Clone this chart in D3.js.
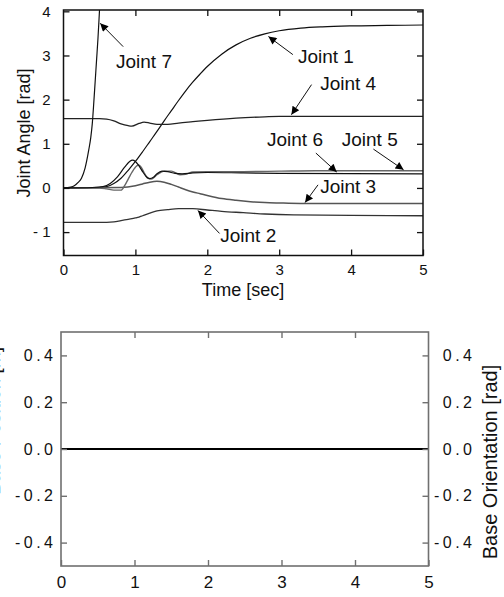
<!DOCTYPE html>
<html><head><meta charset="utf-8">
<script src="https://cdn.jsdelivr.net/npm/d3@7"></script>
<style>body{margin:0;background:#fff}svg{display:block}text{font-family:"Liberation Sans",Arial,sans-serif}</style>
</head><body><svg id="c" width="504" height="597"></svg>
<script>
// ---------- data ----------
const xTicks = [0, 1, 2, 3, 4, 5];
const topYTicks = [-1, 0, 1, 2, 3, 4];
const topYTickLabels = ["- 1", "0", "1", "2", "3", "4"];
const botYTicks = [-0.4, -0.2, 0.0, 0.2, 0.4];
const botYTickLabels = ["-0.4", "-0.2", "0.0", "0.2", "0.4"];

const j1T = [0, 0.5, 0.6, 0.7, 0.8, 0.9, 1.0, 1.1, 1.2, 1.3, 1.4, 1.5, 1.6, 1.7, 1.8, 1.9, 2.0, 2.2, 2.4, 2.6, 2.8, 3.0, 3.3, 3.6, 4.0, 4.5, 5.0];
const j1V = [0, 0.01, 0.03, 0.1, 0.22, 0.4, 0.6, 0.82, 1.05, 1.28, 1.52, 1.75, 1.98, 2.2, 2.4, 2.58, 2.75, 3.03, 3.24, 3.39, 3.49, 3.56, 3.62, 3.65, 3.67, 3.68, 3.69];
const j2T = [0, 0.6, 0.7, 0.8, 0.9, 1.0, 1.05, 1.1, 1.2, 1.3, 1.45, 1.6, 1.8, 2.0, 2.2, 2.5, 2.8, 3.2, 4.0, 5.0];
const j2V = [-0.78, -0.78, -0.77, -0.74, -0.71, -0.68, -0.66, -0.63, -0.57, -0.52, -0.49, -0.47, -0.47, -0.5, -0.53, -0.56, -0.59, -0.61, -0.62, -0.63];
const j3T = [0, 0.8, 1.0, 1.1, 1.2, 1.3, 1.4, 1.5, 1.6, 1.7, 1.8, 1.9, 2.0, 2.2, 2.4, 2.6, 2.8, 3.0, 3.3, 5.0];
const j3V = [0, 0.01, 0.05, 0.09, 0.13, 0.15, 0.13, 0.08, 0.02, -0.04, -0.09, -0.13, -0.17, -0.24, -0.28, -0.31, -0.33, -0.34, -0.35, -0.35];
const j4T = [0, 0.5, 0.6, 0.7, 0.8, 0.9, 0.95, 1.05, 1.12, 1.2, 1.3, 1.45, 1.6, 1.8, 2.0, 2.4, 2.8, 3.0, 5.0];
const j4V = [1.57, 1.57, 1.56, 1.52, 1.45, 1.41, 1.40, 1.46, 1.49, 1.47, 1.44, 1.44, 1.47, 1.50, 1.53, 1.58, 1.61, 1.62, 1.62];
const j5T = [0, 0.5, 0.6, 0.7, 0.8, 0.85, 0.9, 0.95, 1.0, 1.04, 1.08, 1.12, 1.17, 1.22, 1.3, 1.4, 1.5, 1.62, 1.7, 1.8, 2.0, 2.5, 3.0, 3.5, 5.0];
const j5V = [0, 0, -0.02, -0.05, -0.05, 0.05, 0.2, 0.35, 0.47, 0.52, 0.47, 0.35, 0.22, 0.2, 0.3, 0.38, 0.38, 0.3, 0.31, 0.36, 0.37, 0.37, 0.38, 0.39, 0.39];
const j6T = [0, 0.4, 0.55, 0.65, 0.75, 0.85, 0.92, 0.96, 1.0, 1.05, 1.1, 1.15, 1.2, 1.25, 1.3, 1.37, 1.45, 1.55, 1.65, 1.8, 2.0, 2.5, 3.0, 5.0];
const j6V = [0, 0.01, 0.03, 0.1, 0.25, 0.47, 0.6, 0.63, 0.6, 0.5, 0.37, 0.26, 0.21, 0.24, 0.32, 0.38, 0.37, 0.33, 0.32, 0.34, 0.35, 0.34, 0.33, 0.32];
const j7T = [0, 0.1, 0.15, 0.2, 0.25, 0.3, 0.35, 0.38, 0.4, 0.42, 0.44, 0.46, 0.48, 0.5, 0.52];
const j7V = [0, 0.02, 0.05, 0.12, 0.22, 0.45, 0.85, 1.15, 1.45, 1.9, 2.4, 2.9, 3.4, 4.0, 4.6];
const baseT = [0, 5];
const baseV = [0, 0];

// ---------- layout ----------
const svg = d3.select("#c");
const FONT = '"Liberation Sans",Arial,sans-serif';
const x1 = d3.scaleLinear().domain([0, 5]).range([63.5, 423]);
const y1 = d3.scaleLinear().domain([-1.53, 4.03]).range([255.5, 10]);
const x2 = d3.scaleLinear().domain([0, 5]).range([61, 428.5]);
const y2 = d3.scaleLinear().domain([-0.5, 0.5]).range([566, 332]);

svg.append("defs").append("clipPath").attr("id", "clip1")
  .append("rect").attr("x", x1(0)).attr("y", y1(4.03)).attr("width", x1(5) - x1(0)).attr("height", y1(-1.53) - y1(4.03));
const mk = svg.select("defs").append("marker").attr("id", "arr")
  .attr("viewBox", "0 0 10 10").attr("refX", 10).attr("refY", 5)
  .attr("markerWidth", 11).attr("markerHeight", 8).attr("markerUnits", "userSpaceOnUse")
  .attr("orient", "auto");
mk.append("path").attr("d", "M0,0 L10,5 L0,10 Z").attr("fill", "#000");

// ---------- top plot ----------
const g1 = svg.append("g");
const series = [
  {t: j1T, v: j1V, c: "#111", w: 1.2},
  {t: j2T, v: j2V, c: "#333", w: 1.3},
  {t: j3T, v: j3V, c: "#555", w: 1.5},
  {t: j4T, v: j4V, c: "#222", w: 1.3},
  {t: j5T, v: j5V, c: "#666", w: 1.4},
  {t: j6T, v: j6V, c: "#111", w: 1.2},
  {t: j7T, v: j7V, c: "#111", w: 1.2}
];
const line1 = d3.line().x(d => x1(d[0])).y(d => y1(d[1])).curve(d3.curveMonotoneX);
const lg = g1.append("g").attr("clip-path", "url(#clip1)");
series.forEach(s => {
  lg.append("path").datum(s.t.map((t, i) => [t, s.v[i]]))
    .attr("d", line1).attr("fill", "none").attr("stroke", s.c).attr("stroke-width", s.w);
});

function frame(g, xs, ys, color, sw) {
  const [xa, xb] = xs.range(), [yb, ya] = ys.range();
  g.append("rect").attr("x", xa).attr("y", ya).attr("width", xb - xa).attr("height", yb - ya)
    .attr("fill", "none").attr("stroke", color).attr("stroke-width", sw);
}
frame(g1, x1, y1, "#111", 1.5);
const tk = 6;
const ax1b = g1.append("g").attr("transform", `translate(0,${y1.range()[0]})`)
  .call(d3.axisBottom(x1).tickValues(xTicks).tickSize(-tk).tickPadding(tk + 5).tickFormat(d3.format("d")));
const ax1t = g1.append("g").attr("transform", `translate(0,${y1.range()[1]})`)
  .call(d3.axisTop(x1).tickValues(xTicks.slice(1, 5)).tickSize(-tk).tickFormat(""));
const ax1l = g1.append("g").attr("transform", `translate(${x1.range()[0]},0)`)
  .call(d3.axisLeft(y1).tickValues(topYTicks).tickSize(-tk).tickPadding(tk + 7).tickFormat((d, i) => topYTickLabels[i]));
const ax1r = g1.append("g").attr("transform", `translate(${x1.range()[1]},0)`)
  .call(d3.axisRight(y1).tickValues(topYTicks).tickSize(-tk).tickFormat(""));
[ax1b, ax1t, ax1l, ax1r].forEach(a => {
  a.select(".domain").remove();
  a.selectAll("line").attr("stroke", "#111").attr("stroke-width", 1.3);
  a.selectAll("text").attr("font-family", FONT).attr("font-size", 15).attr("fill", "#111");
});
ax1b.selectAll("text").attr("dy", "0.55em");

g1.append("text").attr("x", 243).attr("y", 296).attr("text-anchor", "middle")
  .attr("font-size", 18).attr("fill", "#111").text("Time [sec]");
g1.append("text").attr("transform", "translate(30,133) rotate(-90)").attr("text-anchor", "middle")
  .attr("font-size", 18).attr("fill", "#111").text("Joint Angle [rad]");

// annotations (data coordinates)
const ann = [
  {label: "Joint 7", tx: 0.73, ty: 2.72, ax: 0.83, ay: 3.20, bx: 0.51, by: 3.73},
  {label: "Joint 1", tx: 3.26, ty: 2.83, ax: 3.19, ay: 3.02, bx: 2.85, by: 3.43},
  {label: "Joint 4", tx: 3.57, ty: 2.22, ax: 3.45, ay: 2.34, bx: 3.17, by: 1.66},
  {label: "Joint 6", tx: 2.83, ty: 0.94, ax: 3.51, ay: 0.79, bx: 3.80, by: 0.36},
  {label: "Joint 5", tx: 3.87, ty: 0.94, ax: 4.31, ay: 0.88, bx: 4.73, by: 0.41},
  {label: "Joint 3", tx: 3.57, ty: -0.12, ax: 3.54, ay: 0.07, bx: 3.36, by: -0.33},
  {label: "Joint 2", tx: 2.18, ty: -1.22, ax: 2.17, ay: -1.03, bx: 1.87, by: -0.51}
];
ann.forEach(a => {
  g1.append("text").attr("x", x1(a.tx)).attr("y", y1(a.ty)).attr("font-size", 19).attr("fill", "#111").text(a.label);
  g1.append("line").attr("x1", x1(a.ax)).attr("y1", y1(a.ay)).attr("x2", x1(a.bx)).attr("y2", y1(a.by))
    .attr("stroke", "#111").attr("stroke-width", 1).attr("marker-end", "url(#arr)");
});

// ---------- bottom plot ----------
const g2 = svg.append("g");
g2.append("path").datum(baseT.map((t, i) => [t, baseV[i]]))
  .attr("d", d3.line().x(d => x2(d[0])).y(d => y2(d[1])))
  .attr("fill", "none").attr("stroke", "#000").attr("stroke-width", 2.2);
frame(g2, x2, y2, "#707070", 1.6);
const ax2b = g2.append("g").attr("transform", `translate(0,${y2.range()[0]})`)
  .call(d3.axisBottom(x2).tickValues(xTicks).tickSize(-tk).tickPadding(tk + 6).tickFormat(d3.format("d")));
const ax2t = g2.append("g").attr("transform", `translate(0,${y2.range()[1]})`)
  .call(d3.axisTop(x2).tickValues(xTicks.slice(1, 5)).tickSize(-tk).tickFormat(""));
const ax2l = g2.append("g").attr("transform", `translate(${x2.range()[0]},0)`)
  .call(d3.axisLeft(y2).tickValues(botYTicks).tickSize(-tk).tickPadding(tk + 2).tickFormat((d, i) => botYTickLabels[i]));
const ax2r = g2.append("g").attr("transform", `translate(${x2.range()[1]},0)`)
  .call(d3.axisRight(y2).tickValues(botYTicks).tickSize(-tk).tickPadding(0).tickFormat((d, i) => botYTickLabels[i]));
[ax2b, ax2t, ax2l, ax2r].forEach(a => {
  a.select(".domain").remove();
  a.selectAll("line").attr("stroke", "#707070").attr("stroke-width", 1.4);
  a.selectAll("text").attr("font-family", FONT).attr("font-size", 16).attr("fill", "#111");
});
ax2b.selectAll("text").attr("font-size", 17).attr("dy", "0.6em");
ax2l.selectAll("text").attr("letter-spacing", 3.5).attr("dx", 3.5);
ax2r.selectAll("text").attr("letter-spacing", 3.5).attr("text-anchor", "end").attr("x", 47);
g2.append("text").attr("transform", "translate(497,462) rotate(-90)").attr("text-anchor", "middle")
  .attr("font-size", 20).attr("fill", "#111").text("Base Orientation [rad]");
// left axis title, cut off at the page edge as in the reference
g2.append("text").attr("transform", "translate(0,347) rotate(-90)").attr("text-anchor", "end")
  .attr("font-size", 19).attr("fill", "#111").text("Base Position [m]");
</script></body></html>
